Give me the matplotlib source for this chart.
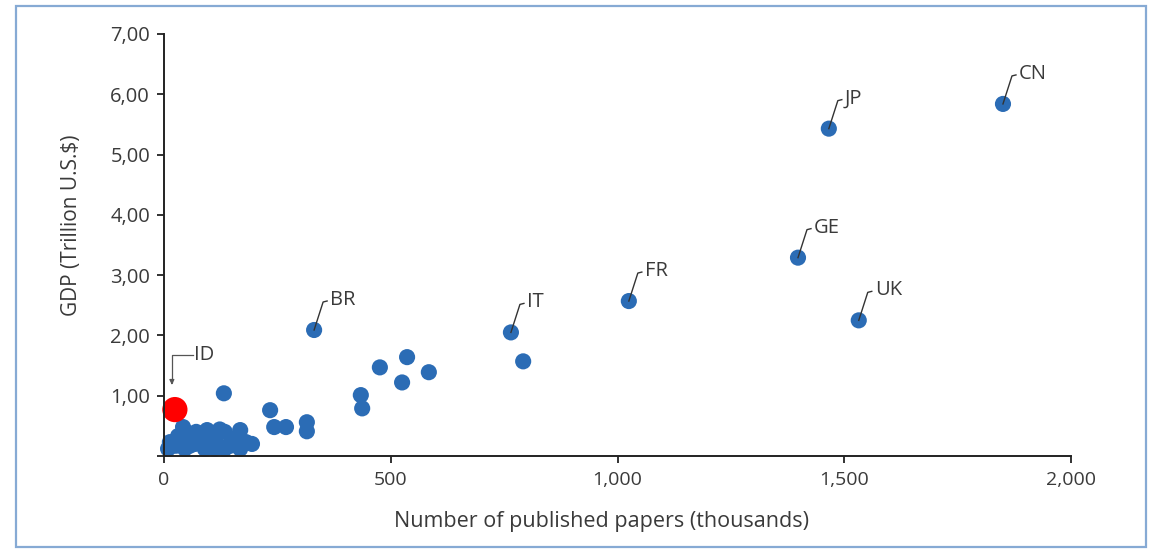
import matplotlib
matplotlib.use("Agg")
import matplotlib.pyplot as plt
import matplotlib.transforms as mtransforms
from matplotlib.patches import Rectangle
from matplotlib.ticker import FuncFormatter

# Data: papers (thousands) vs GDP (trillion US$)
papers = [1850, 1466, 1398, 1532, 1025, 765, 792, 331,
          476, 536, 525, 584, 434, 437, 132, 234, 243, 269, 315, 315,
          13, 31, 42, 53, 68, 79, 95, 108, 123, 134, 150, 168, 181, 194,
          26, 57, 101, 146, 119, 71,
          9, 46, 90, 134, 168, 112, 60]
gdp = [5.84, 5.43, 3.29, 2.25, 2.57, 2.05, 1.57, 2.09,
       1.47, 1.64, 1.22, 1.39, 1.01, 0.79, 1.04, 0.76, 0.48, 0.48, 0.56, 0.41,
       0.23, 0.33, 0.48, 0.28, 0.20, 0.33, 0.43, 0.36, 0.44, 0.40, 0.28, 0.43, 0.23, 0.20,
       0.17, 0.17, 0.17, 0.17, 0.18, 0.40,
       0.12, 0.12, 0.12, 0.12, 0.12, 0.12, 0.30]

# labelled countries (index into the arrays above)
labels = ["CN", "JP", "GE", "UK", "FR", "IT", "BR"]
label_idx = [0, 1, 2, 3, 4, 5, 7]

# highlighted country
id_papers = 24
id_gdp = 0.77

x_ticks = [0, 500, 1000, 1500, 2000]
y_ticks = [0, 1, 2, 3, 4, 5, 6, 7]

dot_color = "#2b6cb5"
text_color = "#3a3a3a"
plt.rcParams["font.family"] = ["Open Sans", "DejaVu Sans"]

W, H = 1149, 552
fig = plt.figure(figsize=(W / 100, H / 100), dpi=100)
ax = fig.add_axes([164 / W, 1 - 456 / H, (1071 - 164) / W, (456 - 34) / H])

ax.scatter(papers, gdp, s=135, color=dot_color, edgecolors="none", zorder=3, clip_on=False)
ax.scatter([id_papers], [id_gdp], s=330, color="#ff0000", edgecolors="none", zorder=4, clip_on=False)

ax.set_xlim(0, 2000)
ax.set_ylim(0, 7)
ax.set_xticks(x_ticks)
ax.set_yticks(y_ticks)
ax.xaxis.set_major_formatter(FuncFormatter(lambda v, p: f"{int(v):,}"))
ax.yaxis.set_major_formatter(FuncFormatter(lambda v, p: "" if v == 0 else f"{v:.2f}".replace(".", ",")))

for s in ["top", "right"]:
    ax.spines[s].set_visible(False)
for s in ["left", "bottom"]:
    ax.spines[s].set_linewidth(1.4)
    ax.spines[s].set_color("#222222")
    ax.spines[s].set_zorder(5)
ax.tick_params(direction="out", length=5, width=1.3, color="#222222",
               labelcolor=text_color, labelsize=14.5, pad=5)
ax.tick_params(axis="x", labelsize=14, pad=6)

# leader lines + country codes
pix = mtransforms.IdentityTransform()
for name, i in zip(labels, label_idx):
    x, y = papers[i], gdp[i]
    tr = pix + mtransforms.ScaledTranslation(x, y, ax.transData)
    ax.plot([0, 9, 13], [0, 28, 29], color="#333333", lw=1.0, transform=tr, zorder=5, clip_on=False)
    ax.annotate(name, (x, y), xytext=(16, 30), textcoords="offset pixels",
                ha="left", va="center", fontsize=14.5, color=text_color)

# ID label with arrow
tr = pix + mtransforms.ScaledTranslation(id_papers, id_gdp, ax.transData)
ax.plot([18, -3, -3], [55, 55, 28], color="#555555", lw=0.9, transform=tr, clip_on=False)
ax.annotate("", xy=(-3, 22), xytext=(-3, 30), xycoords=tr, textcoords=tr,
            arrowprops=dict(arrowstyle="-|>", color="#555555", lw=0.9, mutation_scale=7))
ax.annotate("ID", (id_papers, id_gdp), xytext=(19, 55), textcoords="offset pixels",
            ha="left", va="center", fontsize=14.5, color=text_color)

fig.text(602 / W, 1 - 521 / H, "Number of published papers (thousands)",
         ha="center", va="center", fontsize=15.5, color=text_color)
fig.text(71 / W, 1 - 225 / H, "GDP (Trillion U.S.$)", rotation=90,
         ha="center", va="center", fontsize=15, color=text_color)

# outer frame
fig.patches.append(Rectangle((16 / W, 1 - 547 / H), (1146 - 16) / W, (547 - 6) / H,
                             transform=fig.transFigure, fill=False,
                             edgecolor="#86aad4", lw=1.6))

fig.savefig("out.png", dpi=100)
